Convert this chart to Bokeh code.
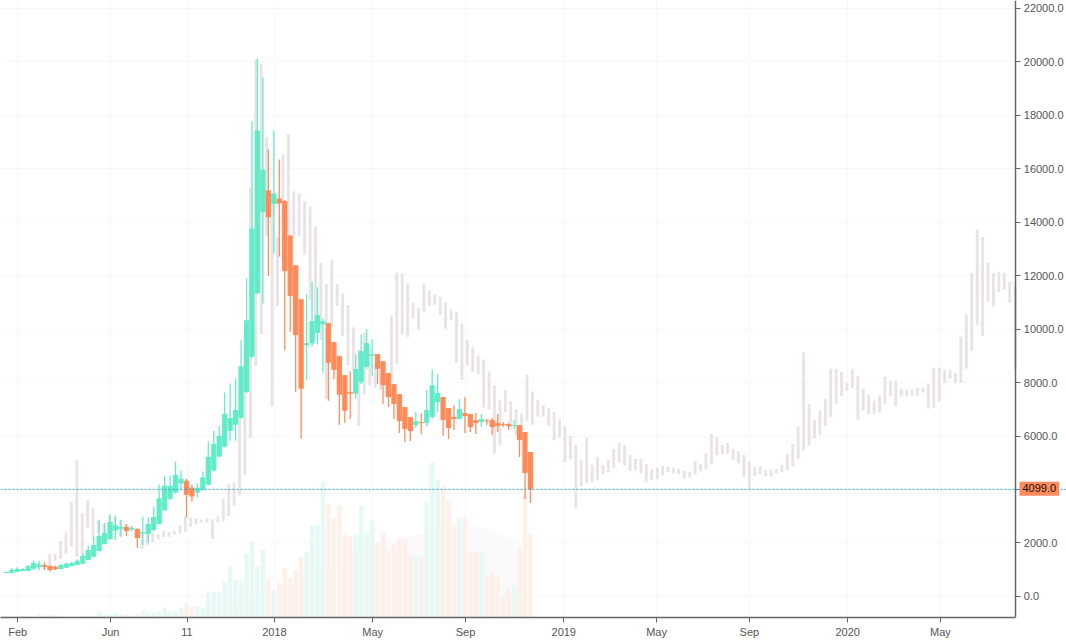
from bokeh.embed import file_html
from bokeh.models import ColumnDataSource, FixedTicker, Label, NumeralTickFormatter, Range1d, Span
from bokeh.plotting import figure
from bokeh.resources import INLINE

opens = [875,875,912,950,950,1037,1100,1175,1137,1112,1025,1075,1137,1175,1225,1362,1487,1700,1962,2150,
2462,2525,2600,2500,2525,2350,2337,2487,2712,3212,3650,3887,4225,4325,4062,3887,3987,4175,4712,5237,
5600,6187,6420,6686,7645,8966,11358,14380,15190,14680,14890,14800,13510,12392,11121,9400,9464,9863,10174,10224,
9514,8990,8280,7645,7583,8031,8592,9003,9065,8803,8355,7944,7570,7084,6710,6411,6523,6486,6710,7270,
7458,7046,6710,6635,6860,6822,6598,6523,6586,6598,6486,6448,6448,6374,6411,6150,5402]
closes = [912,987,1025,1025,1125,1250,1200,1100,987,1012,1175,1225,1262,1337,1525,1737,1925,2262,2375,2787,
2662,2600,2450,2562,2187,2412,2712,2975,3675,4137,4137,4550,4400,3800,3737,4062,4462,5225,5712,6012,
6822,6673,6972,8617,10336,13770,17433,15975,14190,15080,14700,12174,11245,9775,7770,9476,10300,10523,10300,8741,
8480,7545,6947,7583,8505,9177,9476,9065,8517,7906,7458,7196,6560,6262,6187,6560,6486,6972,7906,7607,
6598,6300,6635,7009,6747,6336,6486,6635,6548,6336,6374,6411,6374,6411,5850,4617,4006]
highs = [925,1060,1087,1040,1175,1350,1337,1275,1160,1160,1210,1262,1300,1387,1612,1900,2237,2837,2737,3075,
3012,2862,2712,2637,2550,2975,2962,3362,4175,4512,4512,5037,4712,4400,4180,4240,4675,5800,6212,6374,
7632,7969,8155,9588,11906,17770,20125,19414,16723,17430,16350,14830,13510,12392,11121,11308,11794,11569,10400,10224,
9514,8990,8280,8430,9065,9813,10000,9626,9065,8803,8355,7944,7570,7084,6710,6897,6860,7720,8505,8317,
7458,7046,7158,7383,7458,6822,6860,6822,6635,6673,6822,6523,6500,6598,6411,6150,5402]
lows = [870,860,900,937,930,1000,987,987,925,987,1010,1060,1120,1160,1200,1340,1470,1680,1940,2120,
2112,2237,2262,2462,1812,1912,2000,2450,2700,3587,3587,3850,3987,2962,3550,3700,3950,4150,4690,5200,
5580,5826,5826,6650,7600,8900,11300,10960,11980,12810,12720,9215,9900,7657,5900,8093,9340,9427,8367,7320,
8130,6424,6497,6636,7400,7950,8500,8243,7944,7196,7084,6635,6112,5776,5813,6300,6075,6370,6650,6897,
6000,5888,6224,6620,6112,6150,6075,6336,6411,6037,6150,6336,6224,6262,5215,3645,3495]
volumes = [1,1,1.5,1.5,1,1,3,2.5,2.5,2,1,1,1,1,2,2,2,5.5,3,3,
5,3,2.5,2,4,7,5,5,6,10,6,7,10,14,11,11,10,25,26,25,
36,51,38,37,64,75,51,68,39,27,35,49,39,47,60,66,92,93,136,113,
99,112,83,81,83,112,85,97,75,85,67,73,79,78,62,62,61,115,155,138,
131,117,92,100,100,65,66,66,41,45,41,21,28,32,69,123,83]
shadow_high = [930,1000,1050,1050,1130,1240,1240,1137,1575,1575,2075,2400,3525,5100,3112,3612,3300,2837,2737,3050,
2987,2862,2712,2637,2512,2362,2425,2362,2325,2450,2400,2437,2662,2987,2962,2912,2887,2925,2887,2987,
3650,4200,4275,6850,8780,15290,20087,19925,17184,15100,13450,16520,17300,15160,15080,14780,14590,13840,12490,11680,
12580,11680,11333,10897,10062,9240,9875,9340,8716,8430,8300,10510,12118,12080,11706,10996,10810,11706,11445,11295,
11220,10996,10735,10660,10211,9613,9314,9015,8866,8417,7894,7333,7707,7296,6997,6847,8305,7670,7346,7155,
7043,6894,6633,6373,6000,5665,5106,5925,4919,5218,4919,5106,5516,5739,5665,5292,5143,5143,4957,4770,
4808,4882,4845,4808,4770,4696,4659,5068,4957,5367,6075,5963,5665,5739,5516,5441,5292,5031,4845,4882,
4733,4733,4770,4919,5330,5702,6335,9130,7192,6596,6969,7402,8523,8523,8411,8000,8485,8261,7776,7552,
7328,7514,8224,8075,8075,7776,7739,7739,7813,7813,7963,8560,8560,8485,8485,8373,9718,10539,12108,13715,
13453,12482,12108,12146,12108,11772,11585]
shadow_low = [880,900,950,950,1000,1050,1050,987,987,1337,1412,1600,1862,1487,1587,2575,2112,2362,2237,2650,
2425,2237,2425,2425,2362,1787,1925,2050,2137,2200,2237,2325,2337,2425,2612,2687,2762,2750,2162,2775,
2812,3012,3400,3775,4550,5938,8630,9800,13480,7100,10870,12540,13500,13480,13480,12810,11084,9590,9590,7395,
10087,10870,9750,8650,8467,6386,7557,7906,7807,7720,7500,8093,8704,9800,9713,10386,9987,10647,10872,10909,
10535,10012,10349,8741,8106,8629,8405,8318,7071,6997,5340,5676,6885,6287,6037,6100,6573,6424,6723,6733,
6397,5838,5950,5019,5130,3305,4125,4236,4274,4348,4572,4646,4795,5019,4907,4683,4721,4609,4274,4348,
4385,4534,4646,4609,4572,4423,4460,4572,4683,4758,4944,5280,5317,5354,5106,4981,4460,4025,4510,4572,
4497,4497,4609,4646,4721,4870,5130,5466,5652,5913,6025,6381,6718,7216,7502,7689,7801,6618,6954,6805,
6842,6880,7216,7477,7104,7477,7477,7514,7514,7627,7029,7066,7290,8000,8149,8000,8000,8523,9195,10166,
9755,11025,10839,11399,11474,10988,8485]
area_index = [36,39.2,42.8,47.1,53.7,58,62.3,67.2,72,77,81.2,86.1,89.7,93.4,95]
area_values = [3,11,15,25,36,50,63,75,78,85,96,91,86,77,75]
tick_index = [2.1,19.1,33.1,49.1,67.1,84.1,102.1,119.1,136.1,154.1,171.1]
tick_labels = ["Feb","Jun","11","2018","May","Sep","2019","May","Sep","2020","May"]
y_ticks = [0,2000,4000,6000,8000,10000,12000,14000,16000,18000,20000,22000]
last_label = "4099.0"
last_label_value = 4099

GREEN, ORANGE = "#5AEAC6", "#FF8450"
VOL_GREEN, VOL_ORANGE = "#E5F9F4", "#FDEFE9"
SHADOW_STEP = 0.9934
X_START, X_AXIS, X_END = -1.062, 184.89, 194.18

idx = list(range(len(opens)))
up = [c >= o for o, c in zip(opens, closes)]
main = ColumnDataSource(dict(
    x=idx, top=[max(o, c) for o, c in zip(opens, closes)], bottom=[min(o, c) for o, c in zip(opens, closes)],
    high=highs, low=lows, vol=volumes,
    color=[GREEN if u else ORANGE for u in up],
    volcolor=[VOL_GREEN if u else VOL_ORANGE for u in up]))
shadow = ColumnDataSource(dict(x=[j * SHADOW_STEP for j in range(len(shadow_high))], top=shadow_high, bottom=shadow_low))

p = figure(frame_width=1066, frame_height=617, output_backend="svg", toolbar_location=None,
           x_range=Range1d(X_START, X_END), y_range=Range1d(-789, 22299),
           y_axis_location="right", min_border_left=0, min_border_top=0, min_border_right=0, min_border_bottom=25,
           background_fill_color="white", border_fill_color="white", outline_line_color=None)
p.extra_y_ranges = {"vol": Range1d(0, 617)}

p.varea(x=area_index, y1=[0] * len(area_index), y2=area_values, y_range_name="vol", fill_color="#F9F9F9", fill_alpha=0.9)
p.vbar(x="x", top="vol", bottom=0, width=0.82, source=main, y_range_name="vol", fill_color="volcolor", line_color=None, fill_alpha=0.95)
p.vbar(x="x", top="top", bottom="bottom", width=0.52, source=shadow, fill_color="#E9E2E6", line_color=None)
p.segment(x0="x", x1="x", y0="low", y1="high", source=main, line_color="color", line_alpha=0.92, line_width=1.3)
p.vbar(x="x", top="top", bottom="bottom", width=0.97, source=main, fill_color="color", fill_alpha=0.92, line_color=None)

p.add_layout(Span(location=closes[-1], dimension="width", line_color="#2FA8C8", line_width=1, line_dash=[2, 2]))

p.xaxis.ticker = FixedTicker(ticks=tick_index)
p.xaxis.major_label_overrides = dict(zip(tick_index, tick_labels))
p.xaxis.bounds = (X_START, X_AXIS)
p.yaxis.fixed_location = X_AXIS
p.yaxis.ticker = FixedTicker(ticks=y_ticks)
p.yaxis.formatter = NumeralTickFormatter(format="0.0")
for ax in (p.xaxis[0], p.yaxis[0]):
    ax.axis_line_color = "#666666"
    ax.axis_line_width = 1.5
    ax.major_tick_line_color = "#666666"
    ax.major_tick_line_width = 1
    ax.major_tick_in = 0
    ax.major_tick_out = 5
    ax.minor_tick_line_color = None
    ax.major_label_text_color = "#555555"
    ax.major_label_text_font = "Liberation Sans"
    ax.major_label_text_font_size = "11px"
    ax.major_label_standoff = 3
p.xgrid.grid_line_color = "#F7F7F7"
p.ygrid.grid_line_color = "#F7F7F7"
p.ygrid.cross_bounds = (X_START, X_AXIS)
p.xgrid.ticker = FixedTicker(ticks=tick_index)
p.ygrid.ticker = FixedTicker(ticks=y_ticks)

p.add_layout(Label(x=1019, x_units="canvas", y=last_label_value, y_offset=-2, text=last_label, text_align="left", text_baseline="middle",
                   text_color="#111111", text_font="Liberation Sans", text_font_size="11px",
                   background_fill_color="#FF8A5C", padding=(3, 3, 2, 4), level="annotation"))

open("out.html", "w").write(file_html(p, INLINE))
